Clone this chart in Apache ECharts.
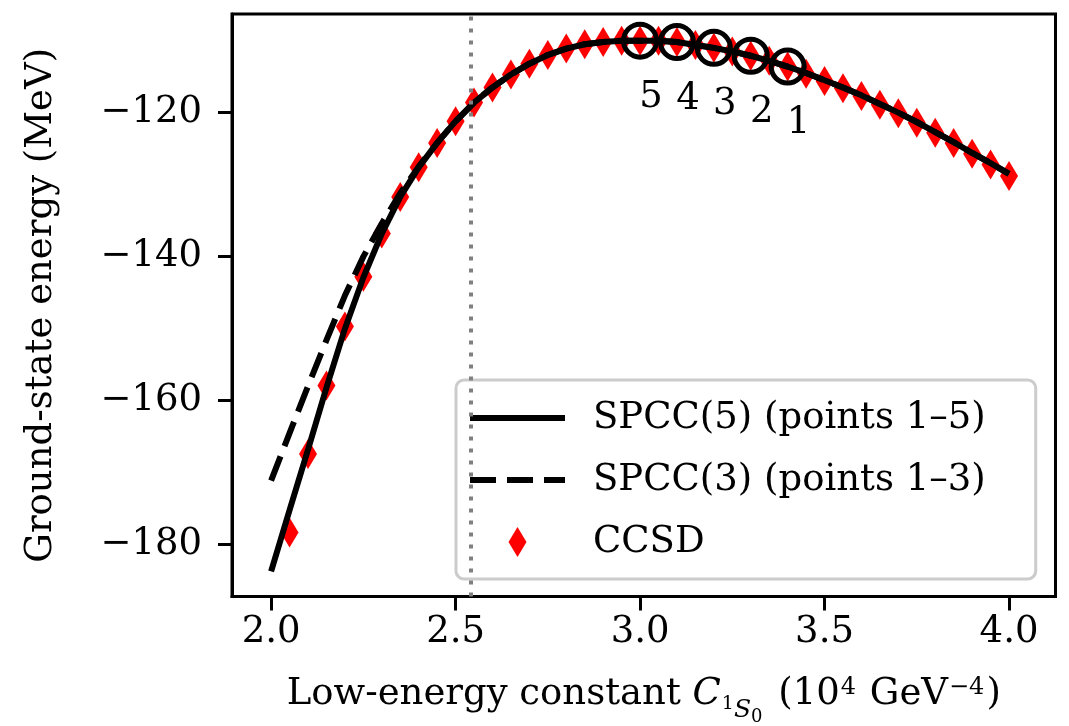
<!DOCTYPE html>
<html>
<head>
<meta charset="utf-8">
<script src="https://cdn.jsdelivr.net/npm/echarts@6/dist/echarts.min.js"></script>
<style>
  html, body { margin: 0; padding: 0; background: #fff; }
  #chart { width: 1069px; height: 726px; }
</style>
</head>
<body>
<div id="chart"></div>
<script>
// Low-energy constant C(1S0) in units of 10^4 GeV^-4, sampled for the SPCC curves
const curveC = [2.00, 2.05, 2.10, 2.15, 2.20, 2.25, 2.30, 2.35, 2.40, 2.45,
                2.50, 2.55, 2.60, 2.65, 2.70, 2.75, 2.80, 2.85, 2.90, 2.95,
                3.00, 3.05, 3.10, 3.15, 3.20, 3.25, 3.30, 3.35, 3.40, 3.45,
                3.50, 3.55, 3.60, 3.65, 3.70, 3.75, 3.80, 3.85, 3.90, 3.95, 4.00];

// SPCC emulator trained on five sample points (MeV)
const spcc5E = [-183.7, -175.2, -166.8, -158.2, -150.0, -142.9, -136.8, -131.7, -127.6, -124.2,
                -121.2, -118.6, -116.5, -114.7, -113.2, -112.0, -111.1, -110.5, -110.2, -110.0,
                -110.0, -110.0, -110.2, -110.6, -111.0, -111.5, -112.1, -112.8, -113.6, -114.5,
                -115.5, -116.5, -117.6, -118.8, -120.0, -121.3, -122.7, -124.1, -125.6, -127.0, -128.5];

// SPCC emulator trained on three sample points (MeV)
const spcc3E = [-171.1, -164.5, -158.0, -151.6, -145.4, -140.0, -135.4, -131.2, -127.5, -124.2,
                -121.2, -118.6, -116.5, -114.7, -113.2, -112.0, -111.1, -110.5, -110.2, -110.0,
                -110.0, -110.0, -110.2, -110.6, -111.0, -111.5, -112.1, -112.8, -113.6, -114.5,
                -115.5, -116.5, -117.6, -118.8, -120.0, -121.3, -122.7, -124.1, -125.6, -127.0, -128.5];

// Full CCSD calculations
const ccsdC = [2.05, 2.10, 2.15, 2.20, 2.25, 2.30, 2.35, 2.40, 2.45, 2.50,
               2.55, 2.60, 2.65, 2.70, 2.75, 2.80, 2.85, 2.90, 2.95, 3.00,
               3.05, 3.10, 3.15, 3.20, 3.25, 3.30, 3.35, 3.40, 3.45, 3.50,
               3.55, 3.60, 3.65, 3.70, 3.75, 3.80, 3.85, 3.90, 3.95, 4.00];
const ccsdE = [-178.3, -167.4, -157.9, -149.7, -142.8, -136.8, -131.7, -127.6, -124.2, -121.2,
               -118.6, -116.5, -114.7, -113.2, -112.0, -111.1, -110.5, -110.2, -110.0, -110.0,
               -110.0, -110.2, -110.6, -111.0, -111.5, -112.1, -112.8, -113.6, -114.6, -115.6,
               -116.6, -117.7, -118.9, -120.1, -121.4, -122.8, -124.2, -125.7, -127.2, -128.8];

// Training (sample) points used by the emulators
const sampleC = [3.4, 3.3, 3.2, 3.1, 3.0];
const sampleE = [-113.6, -112.1, -111.0, -110.2, -110.0];
const sampleLabels = ['1', '2', '3', '4', '5'];

// Reference value of the constant (vertical dotted line)
const markC = 2.54;

// Axis ticks
const xTicks = [2.0, 2.5, 3.0, 3.5, 4.0];
const yTicks = [-180, -160, -140, -120];

const seriesNames = ['SPCC(5) (points 1\u20135)', 'SPCC(3) (points 1\u20133)', 'CCSD'];

const FONT = '"DejaVu Serif", "Liberation Serif", serif';
const FS = 37;
const LINE_W = 6;
const DASH = [26, 11];

const zip = (xs, ys) => xs.map((x, i) => [x, ys[i]]);
const minusFmt = v => (v < 0 ? '\u2212' + Math.abs(v) : String(v));

const chart = echarts.init(document.getElementById('chart'), null, { renderer: 'canvas' });

const hiddenDot = { color: 'rgba(0,0,0,0)', borderWidth: 0 };

const option = {
  animation: false,
  backgroundColor: '#ffffff',
  grid: {
    left: 232, top: 14, right: 13.5, bottom: 129.5,
    outerBoundsMode: 'none', containLabel: false,
    show: true, borderColor: '#000', borderWidth: 3, backgroundColor: 'transparent'
  },
  xAxis: {
    type: 'value', min: 1.894, max: 4.126,
    splitLine: { show: false },
    axisLine: { show: true, lineStyle: { color: '#000', width: 3 } },
    axisTick: { show: true, inside: false, length: 14, lineStyle: { color: '#000', width: 3 }, customValues: xTicks },
    axisLabel: {
      customValues: xTicks, formatter: v => v.toFixed(1), margin: 17,
      color: '#000', fontFamily: FONT, fontSize: FS
    },
    name: '{t|Low-energy constant }{it|C}{s1|1}{sS|S}{s0|0}{t| (10}{sup|4}{t| GeV}{sup|\u22124}{t|)}',
    nameLocation: 'middle', nameGap: 79,
    nameTextStyle: {
      color: '#000', fontFamily: FONT, fontSize: FS,
      rich: {
        t:   { fontFamily: FONT, fontSize: FS, color: '#000', lineHeight: 42, verticalAlign: 'top' },
        it:  { fontFamily: FONT, fontSize: FS, color: '#000', fontStyle: 'italic', lineHeight: 42, verticalAlign: 'top' },
        s1:  { fontFamily: FONT, fontSize: 19, color: '#000', lineHeight: 19, verticalAlign: 'top', padding: [19, 0, 0, 1] },
        sS:  { fontFamily: FONT, fontSize: 25, color: '#000', fontStyle: 'italic', lineHeight: 25, verticalAlign: 'top', padding: [22, 0, 0, 0] },
        s0:  { fontFamily: FONT, fontSize: 18, color: '#000', lineHeight: 18, verticalAlign: 'top', padding: [33, 4, 0, 0] },
        sup: { fontFamily: FONT, fontSize: 24, color: '#000', lineHeight: 24, verticalAlign: 'top', padding: [0, 2, 0, 1] }
      }
    }
  },
  yAxis: {
    type: 'value', min: -187.2, max: -106.3,
    splitLine: { show: false },
    axisLine: { show: true, lineStyle: { color: '#000', width: 3 } },
    axisTick: { show: true, inside: false, length: 14, lineStyle: { color: '#000', width: 3 }, customValues: yTicks },
    axisLabel: {
      customValues: yTicks, formatter: minusFmt, margin: 30,
      color: '#000', fontFamily: FONT, fontSize: FS
    },
    name: 'Ground-state energy (MeV)',
    nameLocation: 'middle', nameGap: 172,
    nameTextStyle: { color: '#000', fontFamily: FONT, fontSize: FS }
  },
  legend: {
    orient: 'vertical', left: 456, top: 380,
    padding: [18, 50, 17, 11],
    itemWidth: 95, itemHeight: 30, itemGap: 22,
    backgroundColor: 'rgba(255,255,255,0.8)',
    borderColor: '#cccccc', borderWidth: 3, borderRadius: 8,
    selectedMode: false,
    textStyle: { color: '#000', fontFamily: FONT, fontSize: FS, lineHeight: 40, padding: [0, 0, 0, 23] },
    data: [
      { name: seriesNames[0], itemStyle: hiddenDot, lineStyle: { color: '#000', width: LINE_W, type: 'solid' } },
      { name: seriesNames[1], itemStyle: hiddenDot, lineStyle: { color: '#000', width: LINE_W, type: DASH } },
      { name: seriesNames[2], icon: 'path://M9,0L18,15L9,30L0,15Z', itemStyle: { color: '#ff0000' } }
    ]
  },
  series: [
    {
      name: seriesNames[0], type: 'line', data: zip(curveC, spcc5E),
      symbol: 'none', showSymbol: false, z: 3,
      lineStyle: { color: '#000', width: LINE_W, type: 'solid' },
      itemStyle: { color: '#000' }
    },
    {
      name: seriesNames[1], type: 'line', data: zip(curveC, spcc3E),
      symbol: 'none', showSymbol: false, z: 3,
      lineStyle: { color: '#000', width: LINE_W, type: DASH },
      itemStyle: { color: '#000' }
    },
    {
      name: seriesNames[2], type: 'scatter', data: zip(ccsdC, ccsdE),
      symbol: 'diamond', symbolSize: [18, 30], z: 2,
      itemStyle: { color: '#ff0000', opacity: 1 }
    },
    {
      name: 'sample points', type: 'scatter', data: zip(sampleC, sampleE),
      symbol: 'circle', symbolSize: 33, z: 5,
      itemStyle: { color: 'rgba(0,0,0,0)', borderColor: '#000', borderWidth: 5, opacity: 1 },
      label: {
        show: true, position: 'inside', offset: [11, 57],
        formatter: p => sampleLabels[p.dataIndex],
        color: '#000', fontFamily: FONT, fontSize: FS
      },
      markLine: {
        silent: true, symbol: 'none', animation: false,
        label: { show: false },
        lineStyle: { color: '#808080', width: 4, type: [4, 8] },
        data: [{ xAxis: markC }]
      }
    }
  ]
};

chart.setOption(option);
</script>
</body>
</html>
